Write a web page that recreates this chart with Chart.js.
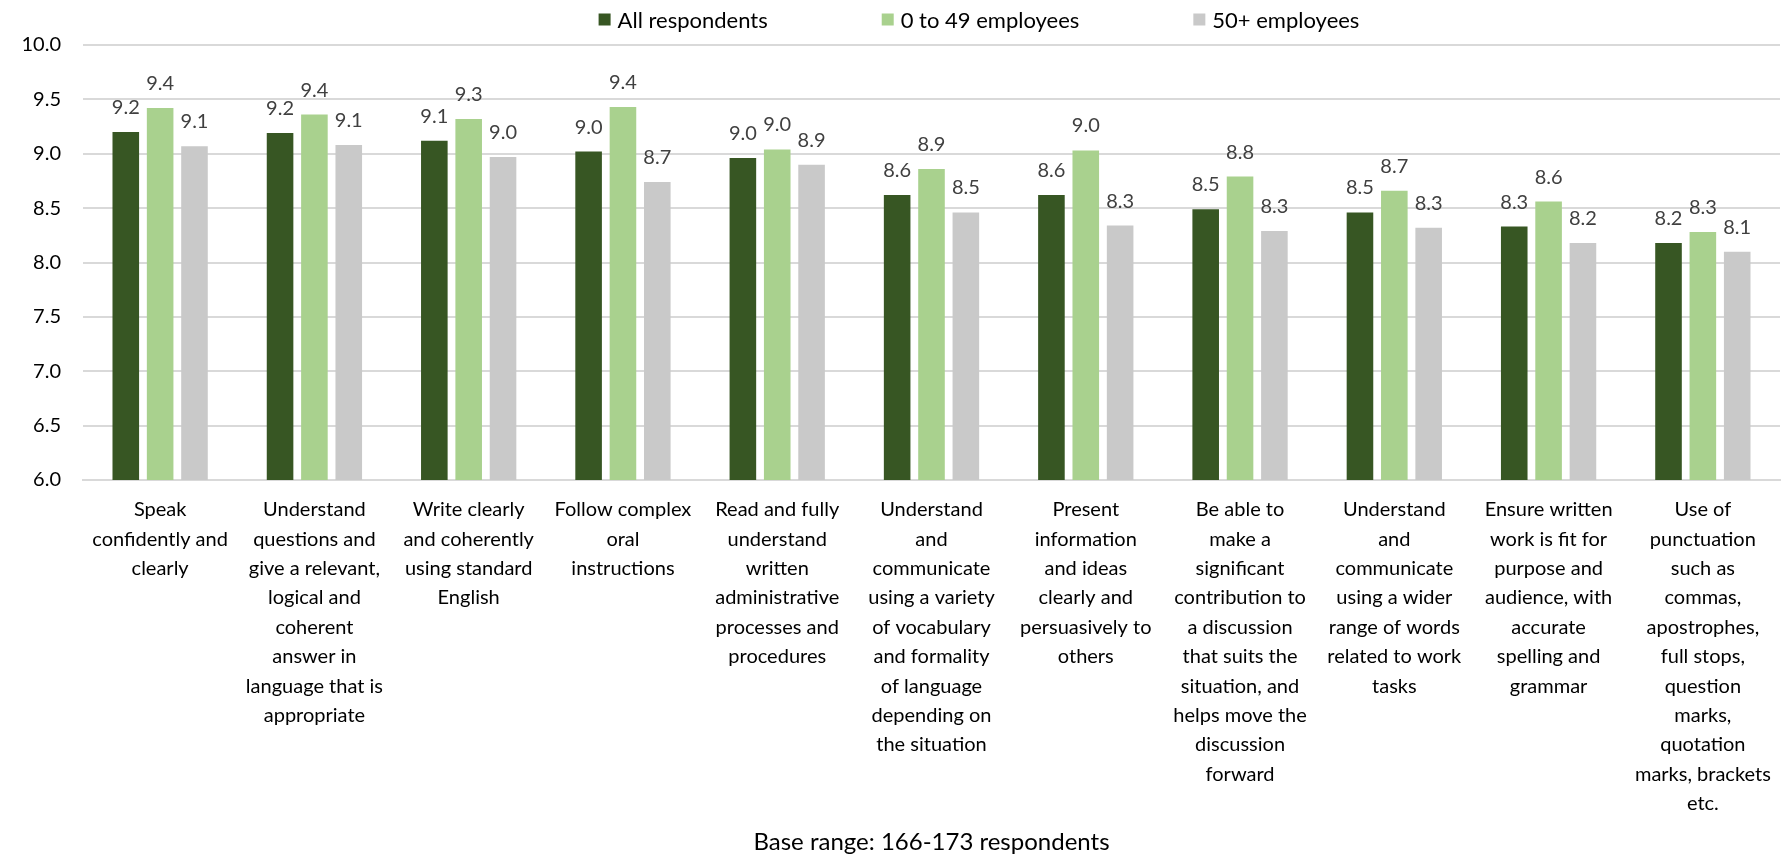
<!DOCTYPE html>
<html>
<head>
<meta charset="utf-8">
<script src="https://cdn.jsdelivr.net/npm/chart.js@4"></script>
<style>
  html, body { margin: 0; padding: 0; background: #ffffff; }
  canvas { display: block; }
</style>
</head>
<body>
<canvas id="c" width="1787" height="857"></canvas>
<script>
// ---- Data ----
const categories = [
  ["Speak", "confidently and", "clearly"],
  ["Understand", "questions and", "give a relevant,", "logical and", "coherent", "answer in", "language that is", "appropriate"],
  ["Write clearly", "and coherently", "using standard", "English"],
  ["Follow complex", "oral", "instructions"],
  ["Read and fully", "understand", "written", "administrative", "processes and", "procedures"],
  ["Understand", "and", "communicate", "using a variety", "of vocabulary", "and formality", "of language", "depending on", "the situation"],
  ["Present", "information", "and ideas", "clearly and", "persuasively to", "others"],
  ["Be able to", "make a", "significant", "contribution to", "a discussion", "that suits the", "situation, and", "helps move the", "discussion", "forward"],
  ["Understand", "and", "communicate", "using a wider", "range of words", "related to work", "tasks"],
  ["Ensure written", "work is fit for", "purpose and", "audience, with", "accurate", "spelling and", "grammar"],
  ["Use of", "punctuation", "such as", "commas,", "apostrophes,", "full stops,", "question", "marks,", "quotation", "marks, brackets", "etc."]
];
const seriesNames = ["All respondents", "0 to 49 employees", "50+ employees"];
const allRespondents = [9.20, 9.19, 9.12, 9.02, 8.96, 8.62, 8.62, 8.49, 8.46, 8.33, 8.18];
const employees0to49 = [9.42, 9.36, 9.32, 9.43, 9.04, 8.86, 9.03, 8.79, 8.66, 8.56, 8.28];
const employees50plus = [9.07, 9.08, 8.97, 8.74, 8.90, 8.46, 8.34, 8.29, 8.32, 8.18, 8.10];
const axisTitle = "Base range: 166-173 respondents";

const colors = ["#375623", "#A9D18E", "#C9C9C9"];
const FONT = "Lato";

const dataLabelsPlugin = {
  id: "dataLabels",
  afterDatasetsDraw(chart) {
    const ctx = chart.ctx;
    ctx.save();
    ctx.font = "20px " + FONT;
    ctx.fillStyle = "#404040";
    ctx.textAlign = "center";
    ctx.textBaseline = "alphabetic";
    chart.data.datasets.forEach((ds, di) => {
      const meta = chart.getDatasetMeta(di);
      meta.data.forEach((bar, i) => {
        ctx.fillText(ds.data[i].toFixed(1), bar.x, bar.y - 18);
      });
    });
    ctx.restore();
  }
};

const customLegendPlugin = {
  id: "customLegend",
  afterDraw(chart) {
    const ctx = chart.ctx;
    ctx.save();
    ctx.font = "22px " + FONT;
    ctx.textBaseline = "middle";
    ctx.textAlign = "left";
    const box = 12, gap = 7, itemGap = 114, cy = 19.5, centerX = 979;
    const items = chart.data.datasets.map(ds => ({ label: ds.label, color: ds.backgroundColor }));
    const widths = items.map(it => box + gap + ctx.measureText(it.label).width);
    const total = widths.reduce((a, b) => a + b, 0) + itemGap * (items.length - 1);
    let x = centerX - total / 2;
    items.forEach((it, k) => {
      ctx.fillStyle = it.color;
      ctx.fillRect(x, cy - box / 2, box, box);
      ctx.fillStyle = "#000000";
      ctx.fillText(it.label, x + box + gap, cy + 1);
      x += widths[k] + itemGap;
    });
    ctx.restore();
  }
};

new Chart(document.getElementById("c"), {
  type: "bar",
  data: {
    labels: categories,
    datasets: [
      { label: seriesNames[0], data: allRespondents, backgroundColor: colors[0] },
      { label: seriesNames[1], data: employees0to49, backgroundColor: colors[1] },
      { label: seriesNames[2], data: employees50plus, backgroundColor: colors[2] }
    ]
  },
  options: {
    responsive: false,
    animation: false,
    devicePixelRatio: 1,
    layout: { padding: { top: 45, right: 7, bottom: 0, left: 0 } },
    datasets: { bar: { categoryPercentage: 0.668, barPercentage: 0.774 } },
    plugins: {
      legend: { display: false },
      tooltip: { enabled: false },
      title: { display: false }
    },
    scales: {
      x: {
        grid: { display: false, drawTicks: false },
        border: { display: true, color: "#D9D9D9", width: 2 },
        ticks: {
          autoSkip: false, maxRotation: 0, minRotation: 0,
          padding: 15,
          color: "#000000",
          font: { family: FONT, size: 20, lineHeight: 1.47 }
        },
        title: {
          display: true, text: axisTitle, color: "#000000",
          font: { family: FONT, size: 24, lineHeight: 1.2 },
          padding: { top: 0, bottom: 0 }
        },
        afterFit(scale) { scale.height = 377; }
      },
      y: {
        min: 6, max: 10,
        grid: { color: "#D9D9D9", lineWidth: 2, drawTicks: false },
        border: { display: false },
        ticks: {
          stepSize: 0.5, padding: 22, color: "#000000",
          font: { family: FONT, size: 20 },
          callback: v => Number(v).toFixed(1)
        },
        afterFit(scale) { scale.width = 83; }
      }
    }
  },
  plugins: [dataLabelsPlugin, customLegendPlugin]
});
</script>
</body>
</html>
